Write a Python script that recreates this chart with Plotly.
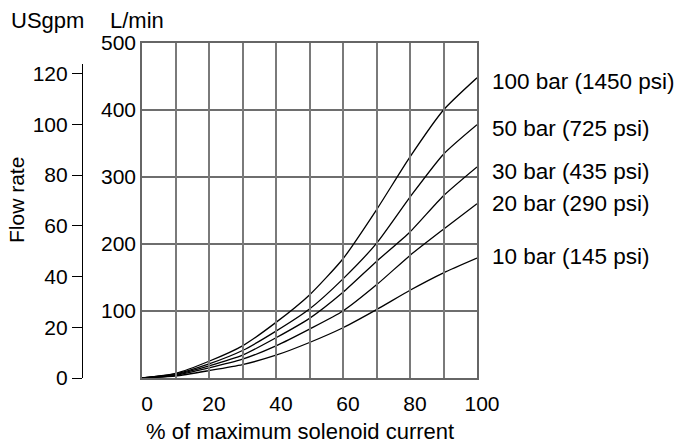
import plotly.graph_objects as go

# ---- data ----
current_pct = [0, 10, 20, 30, 40, 50, 60, 70, 80, 90, 100]
flow_100bar = [0, 7, 25, 48, 83, 124, 178, 251, 330, 400, 448]
flow_50bar = [0, 6, 21, 41, 70, 103, 148, 201, 270, 334, 378]
flow_30bar = [0, 5, 18, 34, 60, 89, 128, 174, 218, 272, 315]
flow_20bar = [0, 4, 15, 28, 48, 73, 100, 139, 183, 222, 260]
flow_10bar = [0, 3, 11, 20, 34, 53, 75, 102, 131, 157, 179]
series_names = ["100 bar (1450 psi)", "50 bar (725 psi)", "30 bar (435 psi)",
                "20 bar (290 psi)", "10 bar (145 psi)"]
label_y = [442, 373, 308, 261, 181]

x_tickvals = [0, 10, 20, 30, 40, 50, 60, 70, 80, 90, 100]
x_ticktext = ["0", "", "20", "", "40", "", "60", "", "80", "", "100"]
lmin_tickvals = [0, 100, 200, 300, 400, 500]
lmin_ticktext = ["", "100", "200", "300", "400", "500"]
gpm_tickvals = [0, 20, 40, 60, 80, 100, 120]
L_PER_USGAL = 3.785

FONT = "Liberation Sans, Arial, sans-serif"
series = [flow_100bar, flow_50bar, flow_30bar, flow_20bar, flow_10bar]

W, H = 686, 446
ML, MR, MT, MB = 60, 209, 43, 68
plot_w = W - ML - MR
plot_h = H - MT - MB


def px_to_paper(px, py):
    return (px - ML) / plot_w, ((H - py) - MB) / plot_h


fig = go.Figure()
for name, ys in zip(series_names, series):
    fig.add_trace(go.Scatter(
        x=current_pct, y=ys, mode="lines", name=name,
        line=dict(color="black", width=1.3, shape="spline", smoothing=0.6),
        hoverinfo="skip", showlegend=False, xaxis="x", yaxis="y"))

# dummy trace so the US gpm axis is drawn
fig.add_trace(go.Scatter(x=[None], y=[None], xaxis="x", yaxis="y2",
                         showlegend=False, hoverinfo="skip"))

for name, yv in zip(series_names, label_y):
    fig.add_annotation(x=100, y=yv, xref="x", yref="y", text=name,
                       showarrow=False, xanchor="left", yanchor="middle",
                       xshift=13, font=dict(size=22.5, color="black", family=FONT))

gpm_top = 124
gpm_full = 500 / L_PER_USGAL

fig.update_layout(
    width=W, height=H,
    margin=dict(l=ML, r=MR, t=MT, b=MB, autoexpand=False),
    paper_bgcolor="white", plot_bgcolor="rgba(0,0,0,0)",
    font=dict(family=FONT, size=21, color="black"),
    xaxis=dict(
        domain=[(142 - ML) / plot_w, 1], range=[0, 100],
        tickvals=x_tickvals, ticktext=x_ticktext,
        showgrid=True, gridcolor="#7a7a7a", gridwidth=1.8,
        showline=True, linecolor="#666666", linewidth=1.5, mirror=True,
        ticks="", ticklabelstandoff=6, ticklabelshift=5,
        zeroline=False, tickfont=dict(size=21),
    ),
    yaxis=dict(
        range=[0, 500], tickvals=lmin_tickvals, ticktext=lmin_ticktext,
        showgrid=True, gridcolor="#6e6e6e", gridwidth=1.8,
        showline=True, linecolor="#666666", linewidth=1.5, mirror=True,
        ticks="", zeroline=False, tickfont=dict(size=21),
    ),
    yaxis2=dict(
        domain=[0, gpm_top / gpm_full], range=[0, gpm_top],
        anchor="free", position=(82 - ML) / plot_w, side="left",
        tickvals=gpm_tickvals, showgrid=False, zeroline=False,
        showline=True, linecolor="black", linewidth=1.2,
        ticks="outside", ticklen=10, tickcolor="black", tickwidth=1.2,
        tickfont=dict(size=21),
    ),
)

texts = [
    ("USgpm", 9, 21, "left", 0, 22),
    ("L/min", 108, 21, "left", 0, 22),
    ("Flow rate", 17, 200, "center", -90, 21),
    ("% of maximum solenoid current", 300, 431, "center", 0, 22),
]
for t, px, py, xa, ang, fs in texts:
    ax, ay = px_to_paper(px, py)
    fig.add_annotation(text=t, x=ax, y=ay, xref="paper", yref="paper",
                       showarrow=False, xanchor=xa, yanchor="middle",
                       textangle=ang,
                       font=dict(size=fs, color="black", family=FONT))

fig.write_html("out.html", config={"displayModeBar": False},
               post_script="document.body.style.margin='0';")
